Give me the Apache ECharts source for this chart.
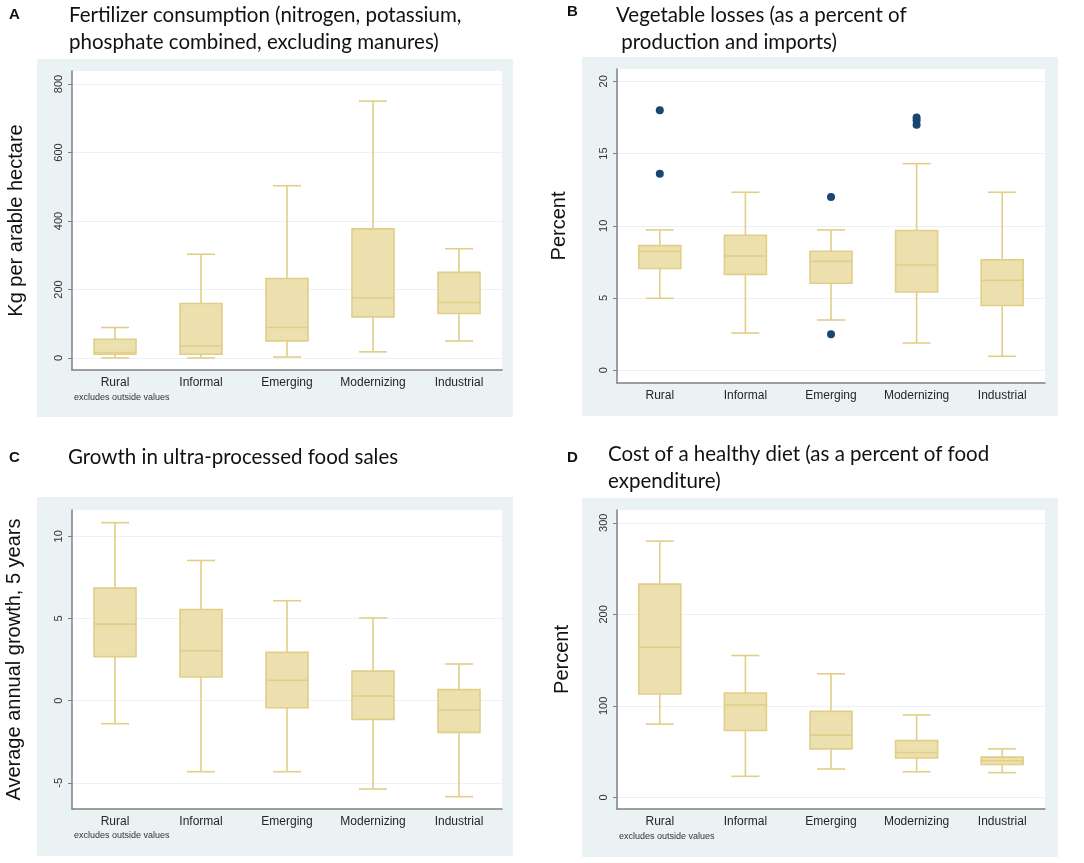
<!DOCTYPE html>
<html>
<head>
<meta charset="utf-8">
<script src="https://cdn.jsdelivr.net/npm/echarts@6/dist/echarts.min.js"></script>
<style>
  html, body { margin: 0; padding: 0; background: #fff; }
  #chart { width: 1084px; height: 863px; }
</style>
</head>
<body>
<div id="chart"></div>
<script>
// categories shared by the four panels
const categories = ['Rural', 'Informal', 'Emerging', 'Modernizing', 'Industrial'];

// box values per category: [lower whisker, Q1, median, Q3, upper whisker]
const fertilizer = [[0, 11, 16, 55, 89], [0, 11, 35, 159, 303], [3, 50, 89, 232, 503], [18, 120, 176, 377, 750], [50, 130, 162, 250, 319]];
const vegLosses = [[4.98, 7.04, 8.24, 8.63, 9.71], [2.58, 6.64, 7.91, 9.34, 12.32], [3.48, 6.02, 7.54, 8.24, 9.71], [1.89, 5.42, 7.29, 9.67, 14.3], [0.97, 4.48, 6.23, 7.64, 12.32]];
const vegOutliers = [['Rural', 18.0], ['Rural', 13.6], ['Emerging', 12.0], ['Emerging', 2.5], ['Modernizing', 17.5], ['Modernizing', 17.3], ['Modernizing', 17.0]];
const upfGrowth = [[-1.4, 2.68, 4.66, 6.85, 10.83], [-4.32, 1.44, 3.04, 5.55, 8.53], [-4.32, -0.43, 1.24, 2.94, 6.08], [-5.37, -1.14, 0.28, 1.8, 5.03], [-5.84, -1.93, -0.57, 0.67, 2.23]];
const dietCost = [[80, 113, 164, 233, 280], [23, 73, 101, 114, 155], [31, 53, 68, 94, 135], [28, 43, 49, 62, 90], [27, 36, 40, 44, 53]];

// y tick labels
const ticksA = [0, 200, 400, 600, 800];
const ticksB = [0, 5, 10, 15, 20];
const ticksC = [-5, 0, 5, 10];
const ticksD = [0, 100, 200, 300];

const BOX_FILL = '#ebe0ae';
const BOX_LINE = '#e2ce88';
const PANEL_BG = '#eaf2f3';

const myChart = echarts.init(document.getElementById('chart'));

function renderBox(params, api) {
  const cat = api.value(0);
  const pMin = api.coord([cat, api.value(1)]);
  const pQ1 = api.coord([cat, api.value(2)]);
  const pMed = api.coord([cat, api.value(3)]);
  const pQ3 = api.coord([cat, api.value(4)]);
  const pMax = api.coord([cat, api.value(5)]);
  const cx = pMed[0];
  const hw = 21, cw = 14;
  const ls = { stroke: BOX_LINE, lineWidth: 1.6 };
  return {
    type: 'group',
    children: [
      { type: 'line', shape: { x1: cx, y1: pQ3[1], x2: cx, y2: pMax[1] }, style: ls },
      { type: 'line', shape: { x1: cx, y1: pQ1[1], x2: cx, y2: pMin[1] }, style: ls },
      { type: 'line', shape: { x1: cx - cw, y1: pMax[1], x2: cx + cw, y2: pMax[1] }, style: ls },
      { type: 'line', shape: { x1: cx - cw, y1: pMin[1], x2: cx + cw, y2: pMin[1] }, style: ls },
      { type: 'rect', shape: { x: cx - hw, y: pQ3[1], width: hw * 2, height: pQ1[1] - pQ3[1] },
        style: { fill: BOX_FILL, stroke: BOX_LINE, lineWidth: 1.6 } },
      { type: 'line', shape: { x1: cx - hw, y1: pMed[1], x2: cx + hw, y2: pMed[1] }, style: ls }
    ]
  };
}

function boxData(rows) {
  return rows.map((r, i) => [i].concat(r));
}

function xAxisFor(idx) {
  return {
    type: 'category', gridIndex: idx, data: categories,
    axisLine: { onZero: false, lineStyle: { color: '#808080', width: 1.5 } },
    axisTick: { show: false },
    axisLabel: { color: '#262626', fontSize: 12, fontFamily: 'Liberation Sans', margin: 7 },
    splitLine: { show: false }
  };
}

function yAxisFor(idx, min, max, ticks, name, gap) {
  return {
    type: 'value', gridIndex: idx, min: min, max: max,
    name: name, nameLocation: 'middle', nameRotate: 90, nameGap: gap,
    nameTextStyle: { fontSize: 20, color: '#111', fontFamily: 'Liberation Sans' },
    axisLine: { show: true, lineStyle: { color: '#808080', width: 1.5 } },
    axisTick: { show: true, length: 4, customValues: ticks, lineStyle: { color: '#808080' } },
    axisLabel: { customValues: ticks, rotate: 90, fontSize: 11, color: '#333', fontFamily: 'Liberation Sans', margin: 8 },
    splitLine: { show: true, lineStyle: { color: PANEL_BG, width: 1 } }
  };
}

const titleStyle = { fontFamily: 'Lato', fontSize: 20.5, fontWeight: 'normal', color: '#111', lineHeight: 27 };
const letterStyle = { fontFamily: 'Liberation Sans', fontSize: 15, fontWeight: 'bold', color: '#111' };
const noteStyle = { fontFamily: 'Liberation Sans', fontSize: 9, fill: '#333' };

const option = {
  animation: false,
  backgroundColor: '#fff',
  title: [
    { text: 'A', left: 9, top: 7, padding: 0, textStyle: letterStyle },
    { text: 'Fertilizer consumption (nitrogen, potassium,\nphosphate combined, excluding manures)', left: 69, top: 2, padding: 0, textStyle: titleStyle },
    { text: 'B', left: 567, top: 4, padding: 0, textStyle: letterStyle },
    { text: 'Vegetable losses (as a percent of\n production and imports)', left: 616, top: 2, padding: 0, textStyle: titleStyle },
    { text: 'C', left: 9, top: 450, padding: 0, textStyle: letterStyle },
    { text: 'Growth in ultra-processed food sales', left: 68, top: 444, padding: 0, textStyle: titleStyle },
    { text: 'D', left: 567, top: 450, padding: 0, textStyle: letterStyle },
    { text: 'Cost of a healthy diet (as a percent of food\nexpenditure)', left: 608, top: 441, padding: 0, textStyle: titleStyle }
  ],
  graphic: [
    { type: 'rect', z: -10, shape: { x: 37, y: 59, width: 476, height: 358 }, style: { fill: PANEL_BG } },
    { type: 'rect', z: -10, shape: { x: 582, y: 57, width: 476, height: 359 }, style: { fill: PANEL_BG } },
    { type: 'rect', z: -10, shape: { x: 37, y: 497, width: 476, height: 359 }, style: { fill: PANEL_BG } },
    { type: 'rect', z: -10, shape: { x: 582, y: 498, width: 476, height: 359 }, style: { fill: PANEL_BG } },
    { type: 'text', left: 74, top: 393, style: Object.assign({ text: 'excludes outside values' }, noteStyle) },
    { type: 'text', left: 74, top: 831, style: Object.assign({ text: 'excludes outside values' }, noteStyle) },
    { type: 'text', left: 619, top: 832, style: Object.assign({ text: 'excludes outside values' }, noteStyle) }
  ],
  grid: [
    { left: 72, top: 71, width: 430, height: 299, show: true, backgroundColor: '#fff', borderWidth: 0 },
    { left: 617, top: 69, width: 428, height: 314, show: true, backgroundColor: '#fff', borderWidth: 0 },
    { left: 72, top: 510, width: 430, height: 299, show: true, backgroundColor: '#fff', borderWidth: 0 },
    { left: 617, top: 510, width: 428, height: 299, show: true, backgroundColor: '#fff', borderWidth: 0 }
  ],
  xAxis: [xAxisFor(0), xAxisFor(1), xAxisFor(2), xAxisFor(3)],
  yAxis: [
    yAxisFor(0, -35, 838, ticksA, 'Kg per arable hectare', 46),
    yAxisFor(1, -0.88, 20.85, ticksB, 'Percent', 48),
    yAxisFor(2, -6.59, 11.6, ticksC, 'Average annual growth, 5 years', 48),
    yAxisFor(3, -12.7, 314, ticksD, 'Percent', 45)
  ],
  series: [
    { type: 'custom', xAxisIndex: 0, yAxisIndex: 0, renderItem: renderBox, data: boxData(fertilizer), encode: { x: 0, y: [1, 2, 3, 4, 5] } },
    { type: 'custom', xAxisIndex: 1, yAxisIndex: 1, renderItem: renderBox, data: boxData(vegLosses), encode: { x: 0, y: [1, 2, 3, 4, 5] } },
    { type: 'scatter', xAxisIndex: 1, yAxisIndex: 1, data: vegOutliers, symbolSize: 8, itemStyle: { color: '#1a476f', opacity: 1 } },
    { type: 'custom', xAxisIndex: 2, yAxisIndex: 2, renderItem: renderBox, data: boxData(upfGrowth), encode: { x: 0, y: [1, 2, 3, 4, 5] } },
    { type: 'custom', xAxisIndex: 3, yAxisIndex: 3, renderItem: renderBox, data: boxData(dietCost), encode: { x: 0, y: [1, 2, 3, 4, 5] } }
  ]
};

myChart.setOption(option);
window.onresize = function () {
  myChart.resize();
};
</script>
</body>
</html>
